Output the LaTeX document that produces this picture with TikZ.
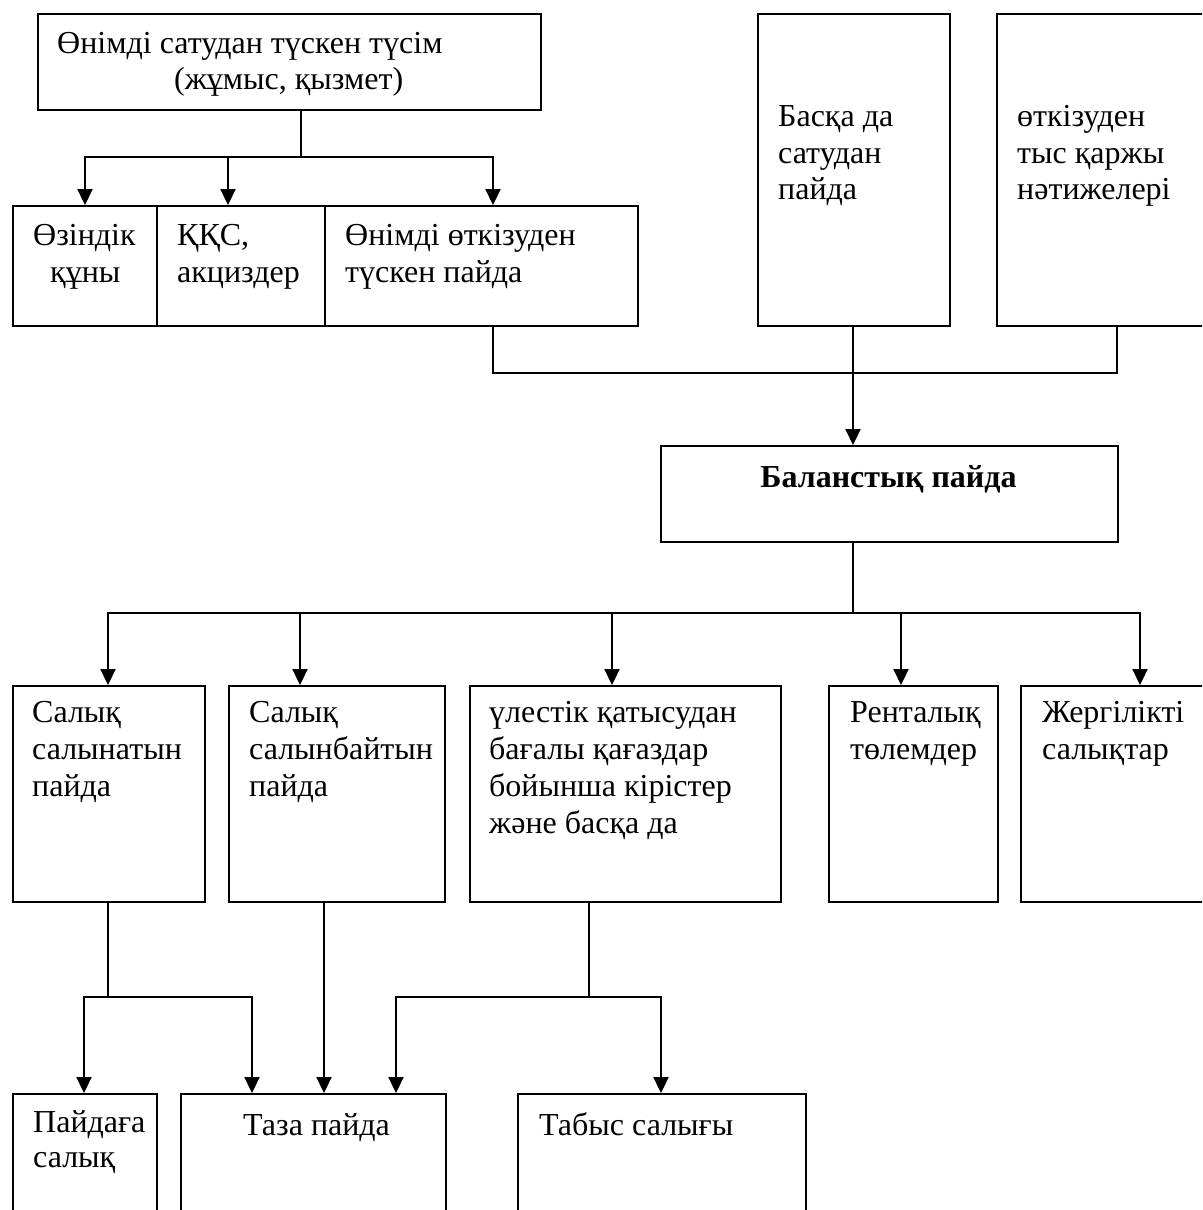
\documentclass[tikz,border=0pt]{standalone}
\usepackage{fontspec}
\setmainfont{Liberation Serif}
\usetikzlibrary{arrows.meta}
\begin{document}
\begin{tikzpicture}[x=1pt,y=-1pt,
  box/.style={draw, line width=1.5pt, inner sep=0pt, anchor=north west},
  txt/.style={anchor=base west, inner sep=0pt, font=\fontsize{32}{37}\selectfont},
  plain/.style={line width=1.4pt},
  arr/.style={line width=2.2pt, -{Triangle[width=15pt,length=16pt]}}]
\useasboundingbox (0,0) rectangle (1202,1210);
\clip (0,0) rectangle (1202,1210);

% ---------- boxes ----------
\node[box, minimum width=503pt, minimum height=96pt] (top) at (37,13) {};
\node[box, minimum width=144pt, minimum height=120pt] (b1) at (12,205) {};
\node[box, minimum width=168pt, minimum height=120pt] (b2) at (156,205) {};
\node[box, minimum width=313pt, minimum height=120pt] (b3) at (324,205) {};
\node[box, minimum width=192pt, minimum height=312pt] (bas) at (757,13) {};
\node[box, minimum width=240pt, minimum height=312pt] (otk) at (996,13) {};
\node[box, minimum width=457pt, minimum height=96pt] (bal) at (660,445) {};
\node[box, minimum width=192pt, minimum height=216pt] (r1) at (12,685) {};
\node[box, minimum width=216pt, minimum height=216pt] (r2) at (228,685) {};
\node[box, minimum width=311pt, minimum height=216pt] (r3) at (469,685) {};
\node[box, minimum width=169pt, minimum height=216pt] (r4) at (828,685) {};
\node[box, minimum width=220pt, minimum height=216pt] (r5) at (1020,685) {};
\node[box, minimum width=144pt, minimum height=160pt] (q1) at (12,1093) {};
\node[box, minimum width=265pt, minimum height=160pt] (q2) at (180,1093) {};
\node[box, minimum width=288pt, minimum height=160pt] (q3) at (517,1093) {};

% ---------- texts ----------
\node[txt] (t1a) at (57,53) {Өнімді сатудан түскен түсім};
\node[txt] (t1b) at (174,89) {(жұмыс, қызмет)};
\node[txt] (t2a) at (33,245) {Өзіндік};
\node[txt] (t2b) at (50,282) {құны};
\node[txt] (t3a) at (177,245) {ҚҚС,};
\node[txt] (t3b) at (177,282) {акциздер};
\node[txt] (t4a) at (345,245) {Өнімді өткізуден};
\node[txt] (t4b) at (345,282) {түскен пайда};
\node[txt] (t5a) at (778,126) {Басқа да};
\node[txt] (t5b) at (778,163) {сатудан};
\node[txt] (t5c) at (778,199) {пайда};
\node[txt] (t6a) at (1017,126) {өткізуден};
\node[txt] (t6b) at (1017,163) {тыс қаржы};
\node[txt] (t6c) at (1017,199) {нәтижелері};
\node[txt, anchor=base, font=\fontsize{32}{37}\selectfont\bfseries] (t7) at (888.5,487) {Баланстық пайда};
\node[txt] (t8a) at (32,722) {Салық};
\node[txt] (t8b) at (32,759) {салынатын};
\node[txt] (t8c) at (32,796) {пайда};
\node[txt] (t9a) at (249,722) {Салық};
\node[txt] (t9b) at (249,759) {салынбайтын};
\node[txt] (t9c) at (249,796) {пайда};
\node[txt] (t10a) at (489,722) {үлестік қатысудан};
\node[txt] (t10b) at (489,759) {бағалы қағаздар};
\node[txt] (t10c) at (489,796) {бойынша кірістер};
\node[txt] (t10d) at (489,833) {және басқа да};
\node[txt] (t11a) at (850,722) {Ренталық};
\node[txt] (t11b) at (850,759) {төлемдер};
\node[txt] (t12a) at (1042,722) {Жергілікті};
\node[txt] (t12b) at (1042,759) {салықтар};
\node[txt] (t13a) at (33,1132) {Пайдаға};
\node[txt] (t13b) at (33,1167) {салық};
\node[txt] (t14) at (243,1135) {Таза пайда};
\node[txt] (t15) at (539,1135) {Табыс салығы};

% ---------- junction coordinates ----------
\coordinate (j1) at (301,157);
\coordinate (j1L) at (85,157);
\coordinate (j1M) at (228,157);
\coordinate (j1R) at (493,157);
\coordinate (c2L) at (493,373);
\coordinate (c2M) at (853,373);
\coordinate (c2R) at (1117,373);
\coordinate (c3M) at (853,613);
\coordinate (c3a) at (108,613);
\coordinate (c3b) at (300,613);
\coordinate (c3c) at (612,613);
\coordinate (c3d) at (901,613);
\coordinate (c3e) at (1140,613);
\coordinate (c4) at (108,997);
\coordinate (c4L) at (84,997);
\coordinate (c4R) at (252,997);
\coordinate (c5) at (324,997);
\coordinate (c6) at (589,997);
\coordinate (c6L) at (396,997);
\coordinate (c6R) at (661,997);

% ---------- connectors ----------
\draw[plain] (top.south -| j1) -- (j1);
\draw[arr] (j1) -| (j1L |- b1.north);
\draw[arr] (j1) -| (j1R |- b3.north);
\draw[arr] (j1M) -- (j1M |- b2.north);

\draw[plain] (b3.south -| c2L) -- (c2L) -- (c2R) -- (otk.south -| c2R);
\draw[arr] (bas.south -| c2M) -- (bal.north -| c2M);

\draw[plain] (bal.south -| c3M) -- (c3M);
\draw[arr] (c3M) -| (c3a |- r1.north);
\draw[arr] (c3M) -| (c3e |- r5.north);
\draw[arr] (c3b) -- (c3b |- r2.north);
\draw[arr] (c3c) -- (c3c |- r3.north);
\draw[arr] (c3d) -- (c3d |- r4.north);

\draw[plain] (r1.south -| c4) -- (c4);
\draw[arr] (c4) -| (c4L |- q1.north);
\draw[arr] (c4) -| (c4R |- q2.north);
\draw[arr] (r2.south -| c5) -- (q2.north -| c5);
\draw[plain] (r3.south -| c6) -- (c6);
\draw[arr] (c6) -| (c6L |- q2.north);
\draw[arr] (c6) -| (c6R |- q3.north);
\end{tikzpicture}
\end{document}
